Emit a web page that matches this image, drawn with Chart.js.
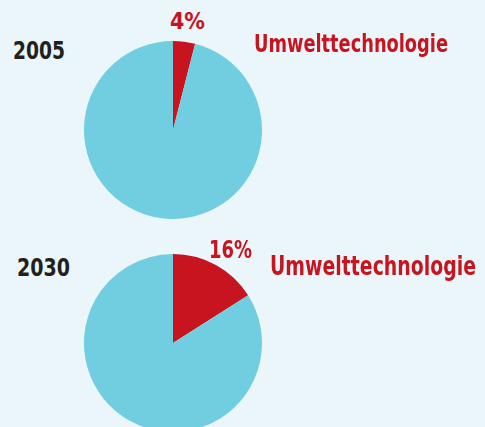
<!DOCTYPE html>
<html><head><meta charset="utf-8">
<script src="https://cdn.jsdelivr.net/npm/chart.js@4"></script>
<style>
html,body{margin:0;padding:0;background:#eaf6f9;width:485px;height:427px;overflow:hidden}
.wrap{position:absolute}
.t{position:absolute;font-family:"DejaVu Sans Condensed","DejaVu Sans",sans-serif;font-stretch:condensed;font-weight:bold;white-space:nowrap;line-height:1;transform-origin:0 0}
.dark{color:#231f20}.red{color:#c8141f}
</style></head><body>
<div class="wrap" id="w1" style="left:84px;top:41px;width:178px;height:178px"><canvas id="c1"></canvas></div>
<div class="wrap" id="w2" style="left:84px;top:254px;width:178px;height:178px"><canvas id="c2"></canvas></div>
<div class="t dark" id="y1" style="left:13px;font-size:25px"></div>
<div class="t red" id="p1" style="left:170px;font-size:23px"></div>
<div class="t red" id="l1" style="left:254px;font-size:24.5px"></div>
<div class="t dark" id="y2" style="left:17px;font-size:25px"></div>
<div class="t red" id="p2" style="left:209px;font-size:25px"></div>
<div class="t red" id="l2" style="left:270px;font-size:26px"></div>
<script>
const years = ["2005", "2030"];
const categories = ["Umwelttechnologie", "Sonstige"];
const share2005 = [4, 96];
const share2030 = [16, 84];
const sliceColors = ["#c8141f", "#71cee0"];

function setText(id, txt, baseline, width){
  const el = document.getElementById(id);
  el.textContent = txt;
  const fs = parseFloat(el.style.fontSize);
  el.style.top = (baseline - 0.846*fs) + "px";
  const w = el.getBoundingClientRect().width;
  el.style.transform = "scaleX(" + (width / w) + ")";
}
setText("y1", years[0], 59, 52);
setText("p1", share2005[0] + "%", 29, 35);
setText("l1", categories[0], 53, 194);
setText("y2", years[1], 276, 53);
setText("p2", share2030[0] + "%", 258, 43);
setText("l2", categories[0], 275, 206);

function makePie(id, values){
  new Chart(document.getElementById(id), {
    type: "pie",
    data: { labels: categories, datasets: [{ data: values, backgroundColor: sliceColors, borderWidth: 0, hoverOffset: 0 }] },
    options: {
      responsive: true, maintainAspectRatio: false, animation: false,
      layout: { padding: 0 },
      plugins: { legend: { display: false }, tooltip: { enabled: false } },
      events: []
    }
  });
}
makePie("c1", share2005);
makePie("c2", share2030);
</script>
</body></html>
